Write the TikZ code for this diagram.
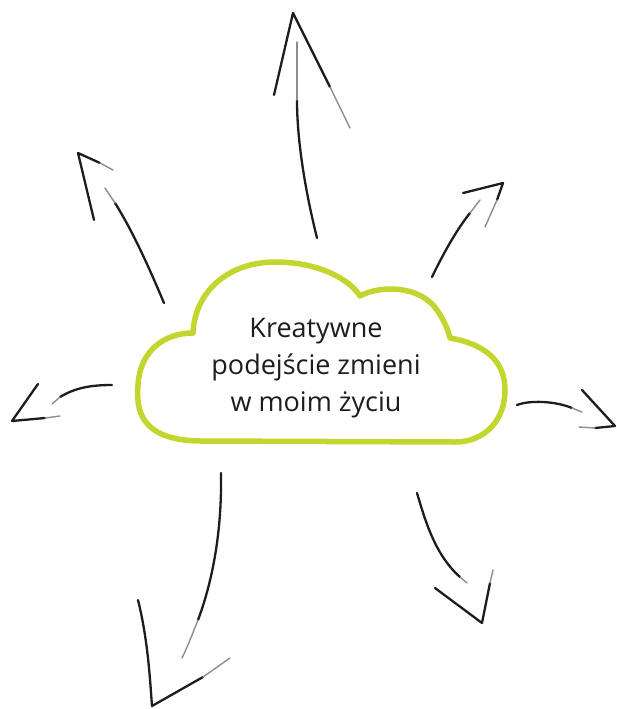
\documentclass[tikz,border=0pt]{standalone}
\usepackage{fontspec}
\setmainfont{Open Sans}
\usepackage{tikz}
\definecolor{cloudgreen}{HTML}{C3D52F}
\definecolor{inkblack}{HTML}{1E1C1D}
\tikzset{
  sketch/.style={line width=2.3pt,line cap=round,line join=round,draw=inkblack},
  faded/.style={line width=1.4pt,line cap=round,draw=inkblack!50},
  cloudline/.style={line width=5.5pt,line cap=round,line join=round,draw=cloudgreen}
}

\begin{document}
\begin{tikzpicture}[x=1pt,y=-1pt]
  \useasboundingbox (0,0) rectangle (617,709);
  % cloud
  \draw[cloudline] (200,441)
    .. controls (140,440) and (136,410) .. (138,385)
    .. controls (140,350) and (165,333) .. (193,333)
    .. controls (195,290) and (230,262) .. (275,262)
    .. controls (320,262) and (350,280) .. (360,296)
    .. controls (380,285) and (420,285) .. (437,310)
    .. controls (445,322) and (448,330) .. (450,338)
    .. controls (490,345) and (505,365) .. (505,390)
    .. controls (505,420) and (485,442) .. (455,442) -- cycle;
  \node[align=center,text=inkblack,font=\fontsize{27}{37}\selectfont] (idea) at (316,368)
    {Kreatywne\\podejście zmieni\\w moim życiu};
  % top arrow
  \coordinate (up-tail) at (317,238);
  \coordinate (up-end) at (297,100);
  \coordinate (up-tip) at (293,13);
  \draw[sketch] (up-tail) .. controls (305,190) and (297,140) .. (up-end);
  \draw[faded] (up-end) -- (297,42);
  \draw[sketch] (274,95) -- (up-tip) -- (330,87);
  \draw[faded] (330,87) -- (350,128);
  % upper left arrow
  \coordinate (ul-tail) at (164,303);
  \coordinate (ul-end) at (115,203);
  \coordinate (ul-tip) at (78,153);
  \draw[sketch] (ul-tail) .. controls (148,265) and (132,230) .. (ul-end);
  \draw[faded] (ul-end) -- (105,188);
  \draw[sketch] (94,220) -- (ul-tip) -- (100,163);
  \draw[faded] (100,163) -- (113,170);
  % upper right arrow
  \coordinate (ur-tail) at (432,277);
  \coordinate (ur-end) at (470,213);
  \coordinate (ur-tip) at (503,183);
  \draw[sketch] (ur-tail) .. controls (445,250) and (458,228) .. (ur-end);
  \draw[faded] (ur-end) -- (480,200);
  \draw[sketch] (463,193) -- (ur-tip) -- (497,200);
  \draw[faded] (497,200) -- (485,227);
  % right arrow
  \coordinate (r-tail) at (517,405);
  \coordinate (r-end) at (572,408);
  \coordinate (r-tip) at (615,426);
  \draw[sketch] (r-tail) .. controls (530,400) and (555,401) .. (r-end);
  \draw[faded] (r-end) -- (582,412);
  \draw[sketch] (582,390) -- (r-tip) -- (595,428);
  \draw[faded] (595,428) -- (579,427);
  % left arrow
  \coordinate (l-tail) at (112,385);
  \coordinate (l-end) at (60,397);
  \coordinate (l-tip) at (12,421);
  \draw[sketch] (l-tail) .. controls (90,385) and (75,388) .. (l-end);
  \draw[faded] (l-end) -- (52,404);
  \draw[sketch] (38,384) -- (l-tip) -- (45,418);
  \draw[faded] (45,418) -- (60,416);
  % lower left arrow
  \coordinate (dl-tail) at (221,473);
  \coordinate (dl-end) at (198,620);
  \coordinate (dl-tip) at (152,706);
  \draw[sketch] (dl-tail) .. controls (222,530) and (213,580) .. (dl-end);
  \draw[faded] (dl-end) .. controls (192,635) and (187,648) .. (182,658);
  \draw[sketch] (138,600) .. controls (148,640) and (150,680) .. (dl-tip) -- (203,677);
  \draw[faded] (203,677) -- (230,658);
  % lower right arrow
  \coordinate (dr-tail) at (417,493);
  \coordinate (dr-end) at (460,577);
  \coordinate (dr-tip) at (482,623);
  \draw[sketch] (dr-tail) .. controls (425,520) and (435,555) .. (dr-end);
  \draw[faded] (dr-end) -- (467,583);
  \draw[sketch] (435,588) -- (dr-tip) -- (490,583);
  \draw[faded] (490,583) -- (493,570);
\end{tikzpicture}
\end{document}
